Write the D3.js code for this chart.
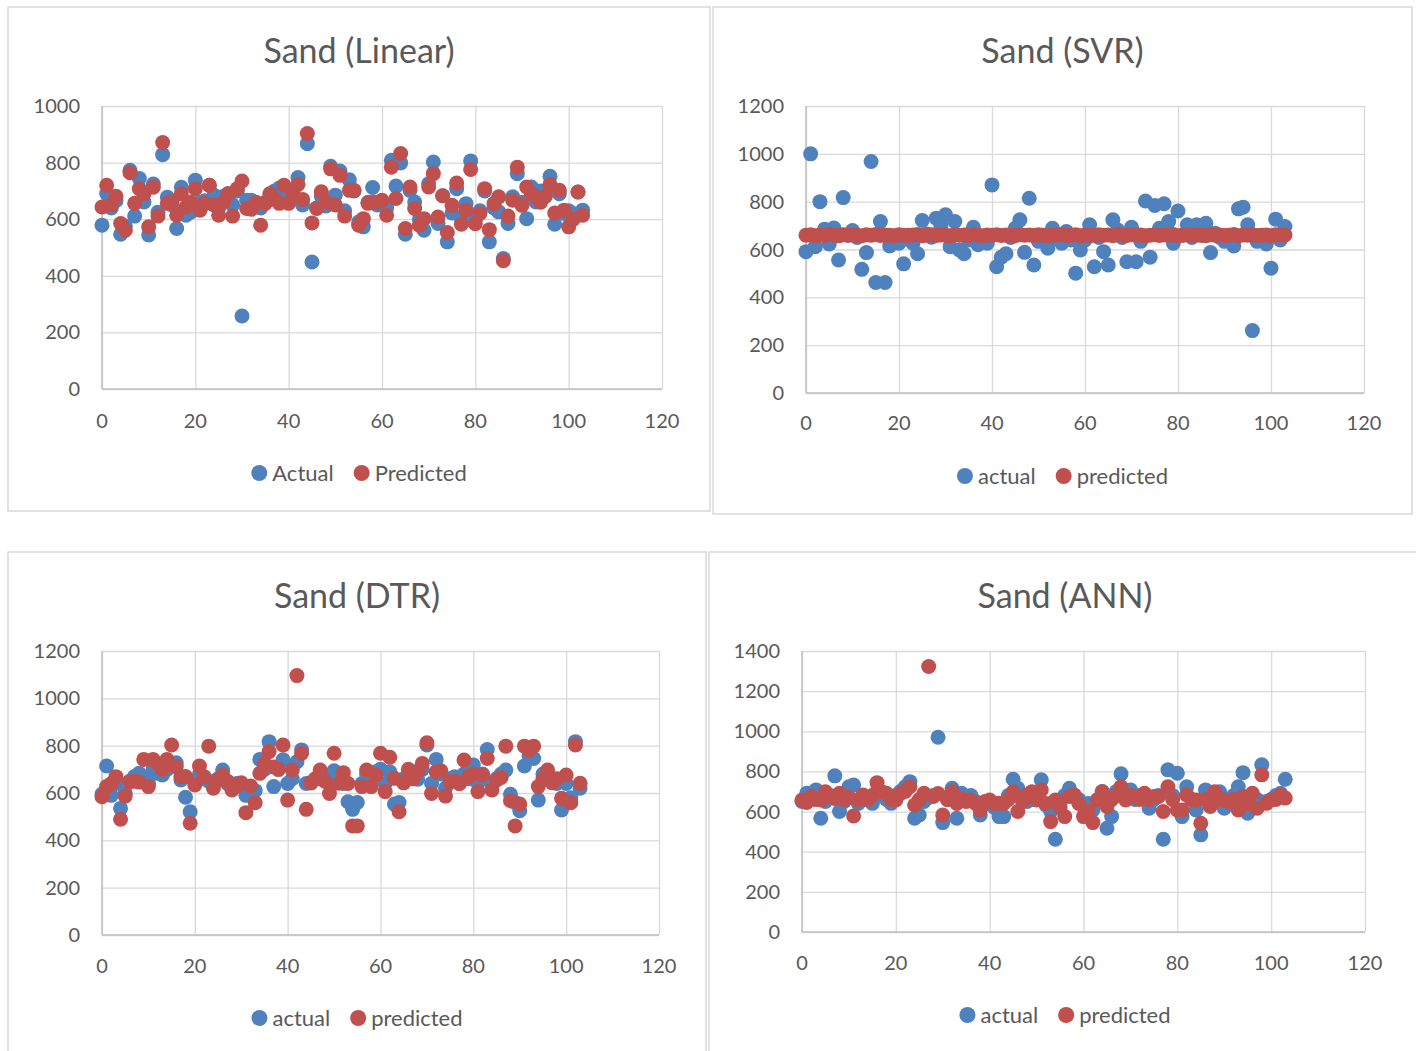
<!DOCTYPE html>
<html>
<head>
<meta charset="utf-8">
<script src="https://cdn.jsdelivr.net/npm/d3@7"></script>
<style>
  body { margin: 0; background: #fff; }
  svg { display: block; font-family: Lato, "Open Sans", sans-serif; }
</style>
</head>
<body>
<svg id="chart" width="1416" height="1051"></svg>
<script>
// sample index along the x axis (0..103)
const sampleIdx = d3.range(104);

const linearActual = [579,691,640,665,547,575,773,611,744,661, 544,724,625,828,678,650,567,713,614,625,
  738,660,665,720,685,640,680,690,650,700, 258,667,667,650,640,660,690,700,710,700,
  660,680,747,650,867,449,640,680,647,787, 685,770,630,739,700,590,573,660,712,650,
  660,640,808,717,799,547,702,661,600,561, 725,802,585,683,520,622,708,600,655,806,
  600,630,700,520,640,626,461,585,679,761, 660,602,714,661,700,690,752,582,690,620,
  630,620,696,632];
const linearPredicted = [643,720,650,681,585,561,764,656,708,690, 573,713,611,871,656,662,614,690,643,660,
  708,632,656,720,650,614,660,690,611,708, 735,638,635,660,579,656,690,670,656,720,
  656,690,723,670,903,587,638,697,660,778, 650,755,611,702,702,579,602,656,660,660,
  667,614,784,673,832,567,714,638,579,602, 714,761,608,683,553,649,728,582,632,776,
  584,620,708,563,655,679,453,611,667,784, 649,714,690,679,660,680,723,622,702,632,
  573,600,696,614];

const svrActual = [591,1000,612,800,685,623,690,556,817,660, 679,650,517,587,968,462,717,462,615,650,
  626,540,660,626,582,721,665,651,731,700, 745,612,717,598,582,640,693,620,640,626,
  870,528,568,582,650,689,724,588,814,535, 634,660,605,689,645,626,675,640,501,598,
  640,703,528,650,591,535,724,682,650,549, 693,549,634,803,568,784,689,791,717,626,
  761,660,703,650,703,660,710,587,668,650, 634,645,615,770,777,703,261,634,650,623,
  522,727,640,696];
const svrPredicted = [660,662,658,661,659,663,660,657,662,660, 661,659,658,662,660,663,659,661,660,658,
  662,660,659,661,663,658,660,662,659,661, 660,657,662,660,661,659,663,660,658,661,
  660,662,659,661,660,658,663,660,661,659, 662,660,658,661,660,663,659,660,662,658,
  661,660,659,662,660,661,658,663,660,659, 662,660,661,658,660,662,659,661,660,663,
  658,660,662,659,661,660,658,662,660,661, 659,660,663,658,661,660,662,659,660,661,
  658,662,660,661];

const dtrActual = [596,714,590,640,535,600,650,670,683,660, 640,700,683,676,700,720,728,655,582,521,
  640,680,660,650,640,660,697,640,620,640, 630,590,620,610,742,700,817,627,700,740,
  640,660,732,782,640,643,660,680,660,640, 694,660,640,563,531,560,640,680,660,690,
  700,640,690,553,560,660,680,690,658,700, 803,640,742,680,620,660,669,650,680,660,
  718,640,680,784,640,660,680,697,595,560, 525,714,760,746,570,680,680,660,640,528,
  640,580,817,620];
const dtrPredicted = [584,627,640,669,489,587,648,650,646,742, 627,742,725,700,742,803,711,669,670,472,
  634,714,669,798,620,655,676,650,613,630, 643,517,630,559,683,725,775,710,700,803,
  570,697,1096,768,531,643,660,697,650,598, 768,641,686,640,461,461,627,697,627,676,
  768,606,751,662,521,643,700,660,690,725, 812,598,690,694,587,648,650,639,739,669,
  680,606,676,746,613,655,666,798,567,461, 553,798,782,798,627,660,697,643,660,578,
  676,559,803,641];

const annActual = [650,691,660,708,567,650,680,778,600,650, 724,732,640,660,670,641,700,680,660,641,
  680,700,724,749,567,583,650,670,680,970, 545,660,716,567,691,660,680,650,583,640,
  650,620,575,575,680,761,716,660,650,660, 680,758,633,600,462,640,680,716,680,660,
  625,640,608,660,700,517,575,700,788,680, 708,660,680,680,617,660,680,462,808,680,
  791,575,724,660,608,484,708,640,680,699, 617,660,680,724,794,592,640,660,833,650,
  660,680,691,761];
const annPredicted = [658,645,675,660,658,699,675,665,691,660, 670,578,658,683,660,680,744,699,691,660,
  658,690,700,724,633,660,691,1323,675,690, 583,660,699,640,665,650,658,640,608,650,
  658,640,641,640,660,699,600,650,683,699, 658,708,640,550,658,620,575,675,683,640,
  575,600,545,658,699,625,660,680,724,658, 680,675,660,691,660,675,675,600,724,660,
  608,608,683,660,658,542,660,625,699,660, 658,650,660,608,675,640,691,617,783,641,
  658,660,683,667];

const xTicks = [0, 20, 40, 60, 80, 100, 120];

const panels = [
  { title: 'Sand (Linear)', actual: linearActual, predicted: linearPredicted, yMax: 1000,
    names: ['Actual', 'Predicted'],
    box: [8, 7, 702, 504], plot: [102, 106, 560, 283], titleY: 63, xLabelY: 428, legendY: 473 },
  { title: 'Sand (SVR)', actual: svrActual, predicted: svrPredicted, yMax: 1200,
    names: ['actual', 'predicted'],
    box: [713, 7, 699, 507], plot: [806, 106, 558, 287], titleY: 63, xLabelY: 430, legendY: 476 },
  { title: 'Sand (DTR)', actual: dtrActual, predicted: dtrPredicted, yMax: 1200,
    names: ['actual', 'predicted'],
    box: [8, 552, 698, 510], plot: [102, 651, 557, 284], titleY: 608, xLabelY: 973, legendY: 1018 },
  { title: 'Sand (ANN)', actual: annActual, predicted: annPredicted, yMax: 1400,
    names: ['actual', 'predicted'],
    box: [709, 552, 712, 510], plot: [802, 651, 563, 281], titleY: 608, xLabelY: 970, legendY: 1015 }
];

const blue = '#4f81bd';
const red = '#c0504d';
const textColor = '#595959';

const svg = d3.select('#chart');

panels.forEach(p => {
  const g = svg.append('g');
  const [bx, by, bw, bh] = p.box;
  const [px, py, pw, ph] = p.plot;

  g.append('rect')
    .attr('x', bx).attr('y', by).attr('width', bw).attr('height', bh)
    .attr('fill', '#fff').attr('stroke', '#d9d9d9').attr('stroke-width', 1.5);

  const x = d3.scaleLinear().domain([0, 120]).range([px, px + pw]);
  const y = d3.scaleLinear().domain([0, p.yMax]).range([py + ph, py]);
  const yTicks = d3.range(0, p.yMax + 1, 200);

  // gridlines
  g.append('g')
    .attr('transform', `translate(0,${py + ph})`)
    .call(d3.axisBottom(x).tickValues(xTicks).tickSize(-ph).tickFormat(''))
    .call(a => a.select('.domain').remove())
    .call(a => a.selectAll('line').attr('stroke', '#d9d9d9').attr('stroke-width', 1.3));
  g.append('g')
    .attr('transform', `translate(${px},0)`)
    .call(d3.axisLeft(y).tickValues(yTicks).tickSize(-pw).tickFormat(''))
    .call(a => a.select('.domain').remove())
    .call(a => a.selectAll('line').attr('stroke', '#d9d9d9').attr('stroke-width', 1.3));

  // axis lines
  g.append('line').attr('x1', px).attr('x2', px + pw).attr('y1', py + ph).attr('y2', py + ph)
    .attr('stroke', '#bfbfbf').attr('stroke-width', 1.5);
  g.append('line').attr('x1', px).attr('x2', px).attr('y1', py).attr('y2', py + ph)
    .attr('stroke', '#bfbfbf').attr('stroke-width', 1.5);

  // tick labels
  g.selectAll('.ylab').data(yTicks).join('text')
    .attr('x', px - 22).attr('y', d => y(d)).attr('dy', '0.35em')
    .attr('text-anchor', 'end').attr('font-size', 20).attr('fill', textColor)
    .text(d => d);
  g.selectAll('.xlab').data(xTicks).join('text')
    .attr('x', d => x(d)).attr('y', p.xLabelY)
    .attr('text-anchor', 'middle').attr('font-size', 20).attr('fill', textColor)
    .text(d => d);

  // title
  g.append('text')
    .attr('x', bx + bw / 2).attr('y', p.titleY)
    .attr('text-anchor', 'middle').attr('font-size', 34).attr('fill', textColor)
    .text(p.title);

  // points: actual first, predicted on top
  g.append('g').selectAll('circle').data(sampleIdx).join('circle')
    .attr('cx', i => x(i)).attr('cy', i => y(p.actual[i])).attr('r', 7.5)
    .attr('fill', blue);
  g.append('g').selectAll('circle').data(sampleIdx).join('circle')
    .attr('cx', i => x(i)).attr('cy', i => y(p.predicted[i])).attr('r', 7.5)
    .attr('fill', red);

  // legend, centred under the plot
  const items = [{ name: p.names[0], color: blue }, { name: p.names[1], color: red }];
  const leg = g.append('g');
  let lx = 0;
  items.forEach(d => {
    leg.append('circle').attr('cx', lx + 8).attr('cy', p.legendY).attr('r', 8).attr('fill', d.color);
    const t = leg.append('text').attr('x', lx + 21).attr('y', p.legendY).attr('dy', '0.35em')
      .attr('font-size', 22).attr('fill', textColor).text(d.name);
    lx += 21 + t.node().getComputedTextLength() + 20;
  });
  const legW = lx - 20;
  leg.attr('transform', `translate(${bx + bw / 2 - legW / 2},0)`);
});
</script>
</body>
</html>
